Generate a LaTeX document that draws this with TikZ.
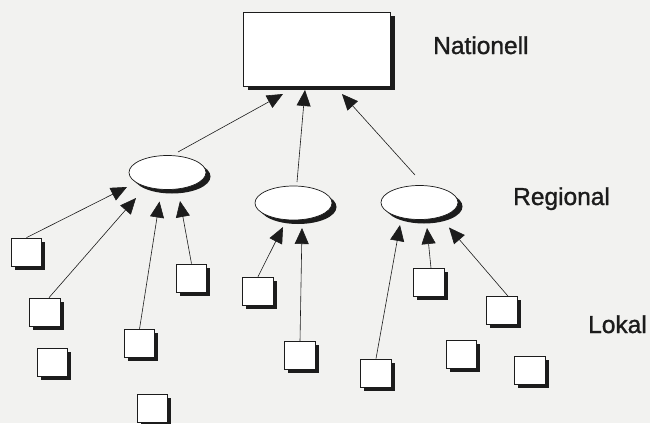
\documentclass[tikz,border=0pt]{standalone}
\usepackage{fontspec}
\setmainfont[FakeBold=1.2]{Liberation Sans}
\usetikzlibrary{arrows.meta,shadows,shapes.geometric}
\definecolor{paper}{RGB}{242,242,240}
\definecolor{ink}{RGB}{28,28,28}
\tikzset{
  solidshadow/.style={drop shadow={shadow xshift=4.5pt, shadow yshift=-4pt, fill=ink, opacity=1}},
  national/.style={draw=ink, line width=0.8pt, fill=white, solidshadow,
    minimum width=147pt, minimum height=74pt, inner sep=0pt},
  region/.style={ellipse, draw=ink, line width=0.7pt, fill=white, solidshadow,
    minimum width=77pt, minimum height=34pt, inner sep=0pt},
  unit/.style={draw=ink, line width=0.7pt, fill=white,
    drop shadow={shadow xshift=3.5pt, shadow yshift=-3.5pt, fill=ink, opacity=1},
    minimum width=30.5pt, minimum height=28pt, inner sep=0pt},
  link/.style={draw=ink, line width=0.6pt, -{Triangle[length=16pt,width=14pt]}},
  level/.style={anchor=base west, font=\fontsize{24.5}{28}\selectfont, text=ink, inner sep=0pt}
}
\begin{document}
\begin{tikzpicture}[x=1pt, y=-1pt]
  % paper
  \fill[paper] (0,0) rectangle (650,423);
  \useasboundingbox (0,0) rectangle (650,423);

  % national level
  \node[national] (nat) at (316.5,49) {};

  % regional level
  \node[region] (r1) at (167.5,172.5) {};
  \node[region] (r2) at (293.5,203) {};
  \node[region] (r3) at (419.5,202.5) {};

  % local units
  \node[unit] (s1)  at (26.5,252)  {};
  \node[unit] (s2)  at (45,312)    {};
  \node[unit] (s3)  at (52.5,362.5){};
  \node[unit] (s4)  at (139.5,343.5){};
  \node[unit] (s5)  at (152.5,408) {};
  \node[unit] (s6)  at (191.5,278) {};
  \node[unit] (s7)  at (258,291)   {};
  \node[unit] (s8)  at (300,355.5) {};
  \node[unit] (s9)  at (376,373)   {};
  \node[unit] (s10) at (429,282.5) {};
  \node[unit] (s11) at (461.5,354) {};
  \node[unit] (s12) at (502,310.5) {};
  \node[unit] (s13) at (530,370)   {};

  % regional -> national
  \draw[link] ([shift={(10.5,-20.5)}]r1.center) -- ([shift={(-33.5,45)}]nat.center);
  \draw[link] ([shift={(3.5,-21)}]r2.center)    -- ([shift={(-11.5,41)}]nat.center);
  \draw[link] ([shift={(-4.5,-27.5)}]r3.center) -- ([shift={(25.5,45)}]nat.center);

  % local -> regional
  \draw[link] (s1.north) -- ([shift={(-40.5,14.5)}]r1.center);
  \draw[link] ([xshift=4pt]s2.north) -- ([shift={(-31.5,25.5)}]r1.center);
  \draw[link] (s4.north) -- ([shift={(-8,29)}]r1.center);
  \draw[link] (s6.north) -- ([shift={(12.5,28.5)}]r1.center);

  \draw[link] (s7.north) -- ([shift={(-10.5,24)}]r2.center);
  \draw[link] (s8.north) -- ([shift={(8.5,25)}]r2.center);

  \draw[link] (s9.north) -- ([shift={(-19.5,22.5)}]r3.center);
  \draw[link] ([xshift=2pt]s10.north) -- ([shift={(7.5,25.5)}]r3.center);
  \draw[link] ([xshift=6pt]s12.north) -- ([shift={(29.5,25)}]r3.center);

  % level labels
  \node[level] (lnat) at (433,54)  {Nationell};
  \node[level] (lreg) at (513,205) {Regional};
  \node[level] (llok) at (588,333) {Lokal};
\end{tikzpicture}
\end{document}
